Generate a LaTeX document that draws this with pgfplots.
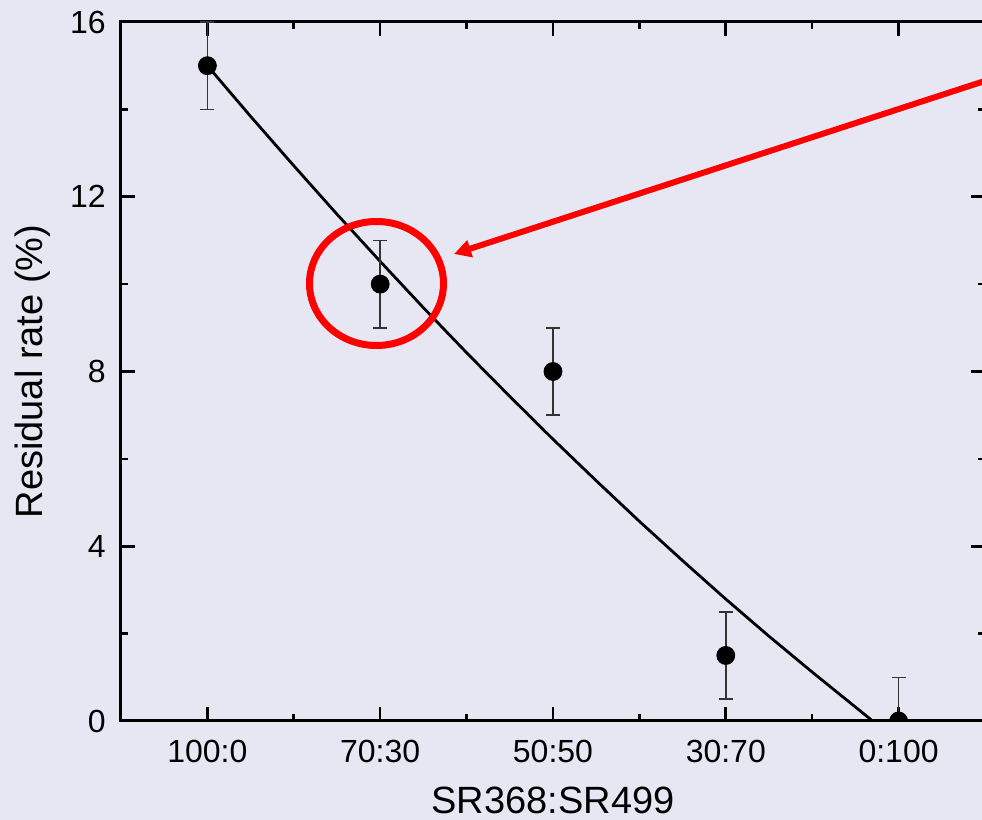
\documentclass[border=0pt]{standalone}
\usepackage{pgfplots}
\pgfplotsset{compat=1.18}
\usepackage{fontspec}
\setmainfont{Liberation Sans}
\usetikzlibrary{arrows.meta}
\definecolor{bgc}{RGB}{231,231,243}
\definecolor{redc}{RGB}{255,0,0}
\begin{document}
\begin{tikzpicture}
\fill[bgc] (-60.5pt,-49.5pt) rectangle (430.5pt,360.5pt);
\begin{axis}[
  at={(0pt,0pt)}, anchor=south west,
  scale only axis, width=432pt, height=349.5pt,
  xmin=-0.5, xmax=4.5, ymin=0, ymax=16,
  xtick={0,1,2,3,4},
  xticklabels={100:0,70:30,50:50,30:70,0:100},
  minor xtick={-0.5,0.5,1.5,2.5,3.5,4.5},
  ytick={0,4,8,12,16},
  minor ytick={2,6,10,14},
  tick align=inside,
  major tick length=7pt, minor tick length=3.5pt,
  every tick/.style={black, line width=1.3pt},
  axis line style={line width=1.5pt},
  /pgf/number format/assume math mode=true,
  tick label style={font=\fontsize{16}{19}\selectfont},
  yticklabel style={inner sep=0pt, xshift=-7.5pt},
  xticklabel style={inner sep=0pt, yshift=-9.5pt},
  label style={font=\fontsize{19}{23}\selectfont},
  xlabel={SR368:SR499},
  ylabel={Residual rate (\%)},
  xlabel style={at={(axis description cs:0.5,0)}, anchor=base, yshift=-46.5pt},
  ylabel style={at={(axis description cs:-0.0914,0.5)}, anchor=base, rotate=0},
  clip marker paths=true,
]
\addplot[black, line width=1.4pt] coordinates {
  (0,15) (0.25,13.84) (0.5,12.71) (0.75,11.60) (1,10.52) (1.25,9.46) (1.5,8.43)
  (1.75,7.43) (2,6.45) (2.25,5.50) (2.5,4.57) (2.75,3.67) (3,2.79) (3.25,1.94)
  (3.5,1.12) (3.75,0.32) (3.85,0)
};
\addplot[only marks, mark=*, mark size=4.5pt, black,
  error bars/.cd, y dir=both, y explicit,
  error bar style={line width=0.8pt, color=black!80},
  error mark options={rotate=90, mark size=3.5pt, line width=0.8pt, color=black!80}]
  coordinates {
  (0,15) +- (0,1)
  (1,10) +- (0,1)
  (2,8) +- (0,1)
  (3,1.5) +- (0,1)
  (4,0) +- (0,1)
};
\end{axis}
\draw[redc, line width=3.5pt] (127.75pt,218.75pt) ellipse [x radius=33.5pt, y radius=31pt];
\draw[redc, line width=3pt, -{Triangle[length=8.5pt,width=8.5pt]}] (439.5pt,322.5pt) -- (166.5pt,233.5pt);
\pgfresetboundingbox
\path[use as bounding box] (-60.5pt,-49.5pt) rectangle (430.5pt,360.5pt);
\end{tikzpicture}
\end{document}
